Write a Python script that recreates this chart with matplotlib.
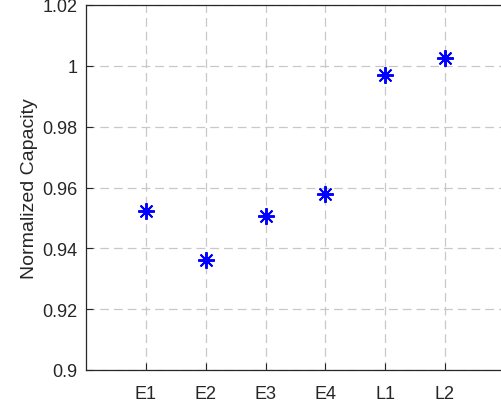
import matplotlib
matplotlib.use("Agg")
import matplotlib.pyplot as plt

# Normalized capacity per cell
cells = ["E1", "E2", "E3", "E4", "L1", "L2"]
capacity = [0.9522, 0.9363, 0.9506, 0.9578, 0.9971, 1.0025]
y_ticks = [0.9, 0.92, 0.94, 0.96, 0.98, 1.0, 1.02]
y_tick_labels = ["0.9", "0.92", "0.94", "0.96", "0.98", "1", "1.02"]

plt.rcParams["font.family"] = ["Liberation Sans", "DejaVu Sans"]

fig = plt.figure(figsize=(5.02, 4.10), dpi=100)
ax = fig.add_axes([86.2 / 502, 1 - 371 / 410, 418.6 / 502, 365 / 410])

positions = list(range(1, len(cells) + 1))
ax.plot(positions, capacity, linestyle="none", marker=(8, 2, 0),
        markersize=12, markeredgewidth=1.4, color="#0000ff", zorder=3)

ax.set_xlim(0, 7)
ax.set_ylim(0.9, 1.02)
ax.set_xticks(positions)
ax.set_xticklabels(cells)
ax.set_yticks(y_ticks)
ax.set_yticklabels(y_tick_labels)
ax.tick_params(direction="in", length=5, width=0.8, labelsize=13,
               colors="#262626", top=False, right=False)
ax.tick_params(axis="x", pad=11)
ax.tick_params(axis="y", pad=6)
ax.set_ylabel("Normalized Capacity", fontsize=14, color="#262626", labelpad=3)

ax.grid(True, color="#c8c8c8", linestyle=(0, (7, 4)), linewidth=0.9)
ax.set_axisbelow(True)
for side in ["top", "bottom", "left", "right"]:
    ax.spines[side].set_color("#262626")
    ax.spines[side].set_linewidth(0.9)

fig.savefig("out.png", dpi=100)
